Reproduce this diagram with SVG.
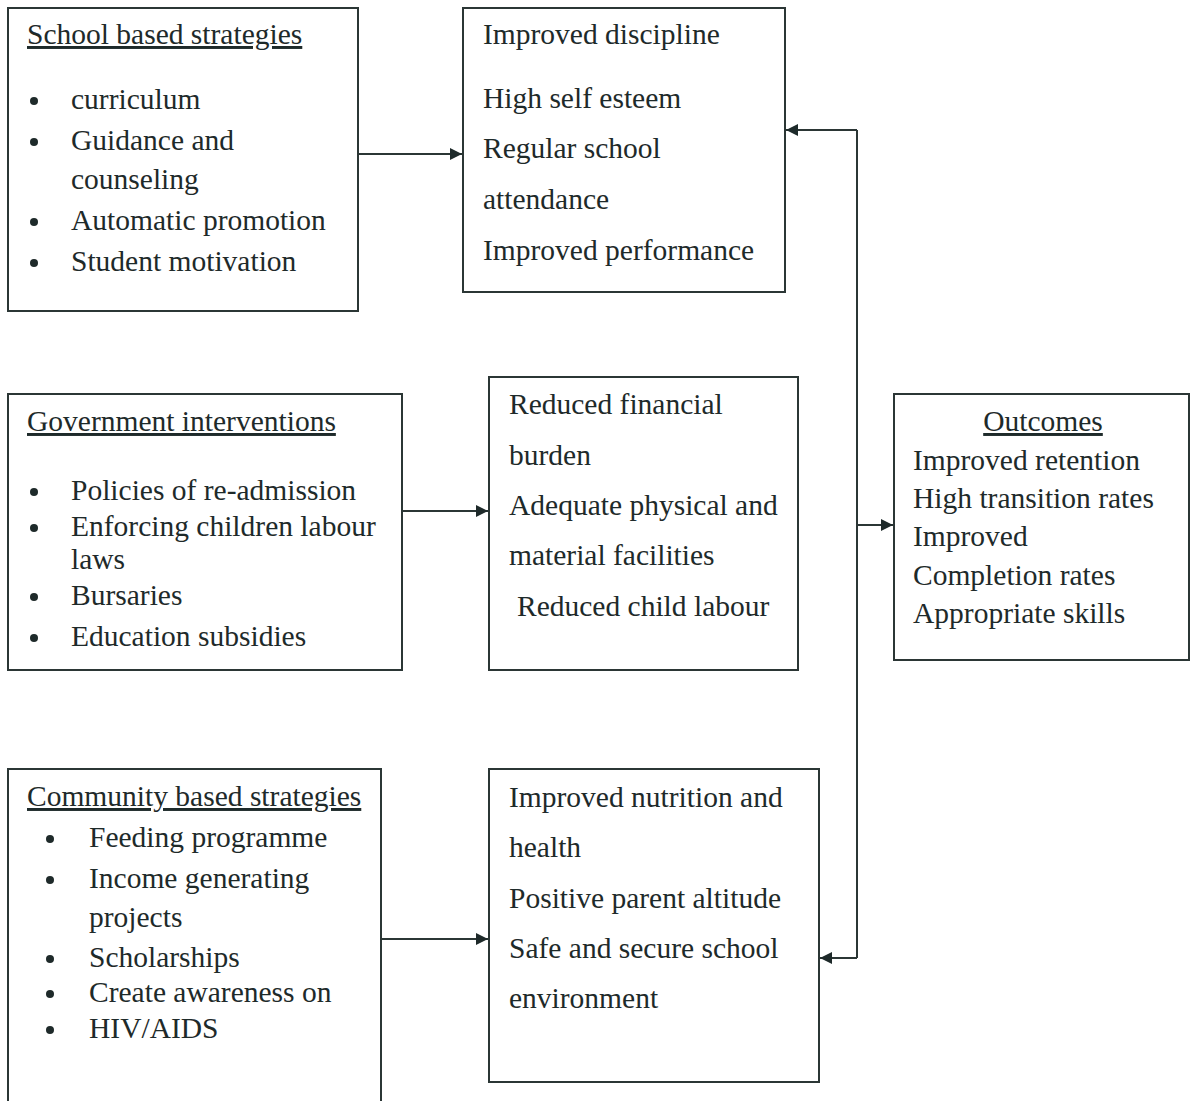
<svg xmlns="http://www.w3.org/2000/svg" width="1195" height="1101" viewBox="0 0 1195 1101">
<style>
.box{fill:#fff;stroke:#2b3635;stroke-width:2}
text{font-family:"Liberation Serif","Times New Roman",serif;font-size:29.5px;fill:#1e2a2a}
.u{text-decoration:underline}
.b{fill:#1e2a2a}
.c{fill:none;stroke:#2b3635;stroke-width:2}
</style>
<defs>
<marker id="ah" viewBox="0 0 10 10" refX="10" refY="5" markerWidth="14" markerHeight="12" markerUnits="userSpaceOnUse" orient="auto">
<path d="M0,0 L10,5 L0,10 z" fill="#1e2a2a"/>
</marker>
</defs>
<rect width="1195" height="1101" fill="#fff"/>
<g id="connectors">
<line class="c" x1="358" y1="154" x2="462" y2="154" marker-end="url(#ah)"/>
<line class="c" x1="402" y1="511" x2="488" y2="511" marker-end="url(#ah)"/>
<line class="c" x1="381" y1="939" x2="488" y2="939" marker-end="url(#ah)"/>
<line class="c" x1="857" y1="130" x2="857" y2="958"/>
<line class="c" x1="857" y1="130" x2="786" y2="130" marker-end="url(#ah)"/>
<line class="c" x1="857" y1="958" x2="820" y2="958" marker-end="url(#ah)"/>
<line class="c" x1="857" y1="525" x2="893" y2="525" marker-end="url(#ah)"/>
</g>
<g id="school">
<rect class="box" x="8" y="8" width="350" height="303"/>
<text class="u" x="27" y="44">School based strategies</text>
<circle class="b" cx="34" cy="101" r="4"/><text x="71" y="109">curriculum</text>
<circle class="b" cx="34" cy="142" r="4"/><text x="71" y="150">Guidance and</text>
<text x="71" y="189">counseling</text>
<circle class="b" cx="34" cy="222" r="4"/><text x="71" y="230">Automatic promotion</text>
<circle class="b" cx="34" cy="263" r="4"/><text x="71" y="271">Student motivation</text>
</g>
<g id="discipline">
<rect class="box" x="463" y="8" width="322" height="284"/>
<text x="483" y="44">Improved discipline</text>
<text x="483" y="108">High self esteem</text>
<text x="483" y="158">Regular school</text>
<text x="483" y="209">attendance</text>
<text x="483" y="260">Improved performance</text>
</g>
<g id="government">
<rect class="box" x="8" y="394" width="394" height="276"/>
<text class="u" x="27" y="431">Government interventions</text>
<circle class="b" cx="34" cy="492" r="4"/><text x="71" y="500">Policies of re-admission</text>
<circle class="b" cx="34" cy="528" r="4"/><text x="71" y="536">Enforcing children labour</text>
<text x="71" y="569">laws</text>
<circle class="b" cx="34" cy="597" r="4"/><text x="71" y="605">Bursaries</text>
<circle class="b" cx="34" cy="638" r="4"/><text x="71" y="646">Education subsidies</text>
</g>
<g id="financial">
<rect class="box" x="489" y="377" width="309" height="293"/>
<text x="509" y="414">Reduced financial</text>
<text x="509" y="465">burden</text>
<text x="509" y="515">Adequate physical and</text>
<text x="509" y="565">material facilities</text>
<text x="517" y="616">Reduced child labour</text>
</g>
<g id="outcomes">
<rect class="box" x="894" y="394" width="295" height="266"/>
<text class="u" x="1043" y="431" text-anchor="middle">Outcomes</text>
<text x="913" y="470">Improved retention</text>
<text x="913" y="508">High transition rates</text>
<text x="913" y="546">Improved</text>
<text x="913" y="585">Completion rates</text>
<text x="913" y="623">Appropriate skills</text>
</g>
<g id="community">
<rect class="box" x="8" y="769" width="373" height="340"/>
<text class="u" x="27" y="806">Community based strategies</text>
<circle class="b" cx="50" cy="839" r="4"/><text x="89" y="847">Feeding programme</text>
<circle class="b" cx="50" cy="880" r="4"/><text x="89" y="888">Income generating</text>
<text x="89" y="927">projects</text>
<circle class="b" cx="50" cy="959" r="4"/><text x="89" y="967">Scholarships</text>
<circle class="b" cx="50" cy="994" r="4"/><text x="89" y="1002">Create awareness on</text>
<circle class="b" cx="50" cy="1030" r="4"/><text x="89" y="1038">HIV/AIDS</text>
</g>
<g id="nutrition">
<rect class="box" x="489" y="769" width="330" height="313"/>
<text x="509" y="807">Improved nutrition and</text>
<text x="509" y="857">health</text>
<text x="509" y="908">Positive parent altitude</text>
<text x="509" y="958">Safe and secure school</text>
<text x="509" y="1008">environment</text>
</g>
</svg>
